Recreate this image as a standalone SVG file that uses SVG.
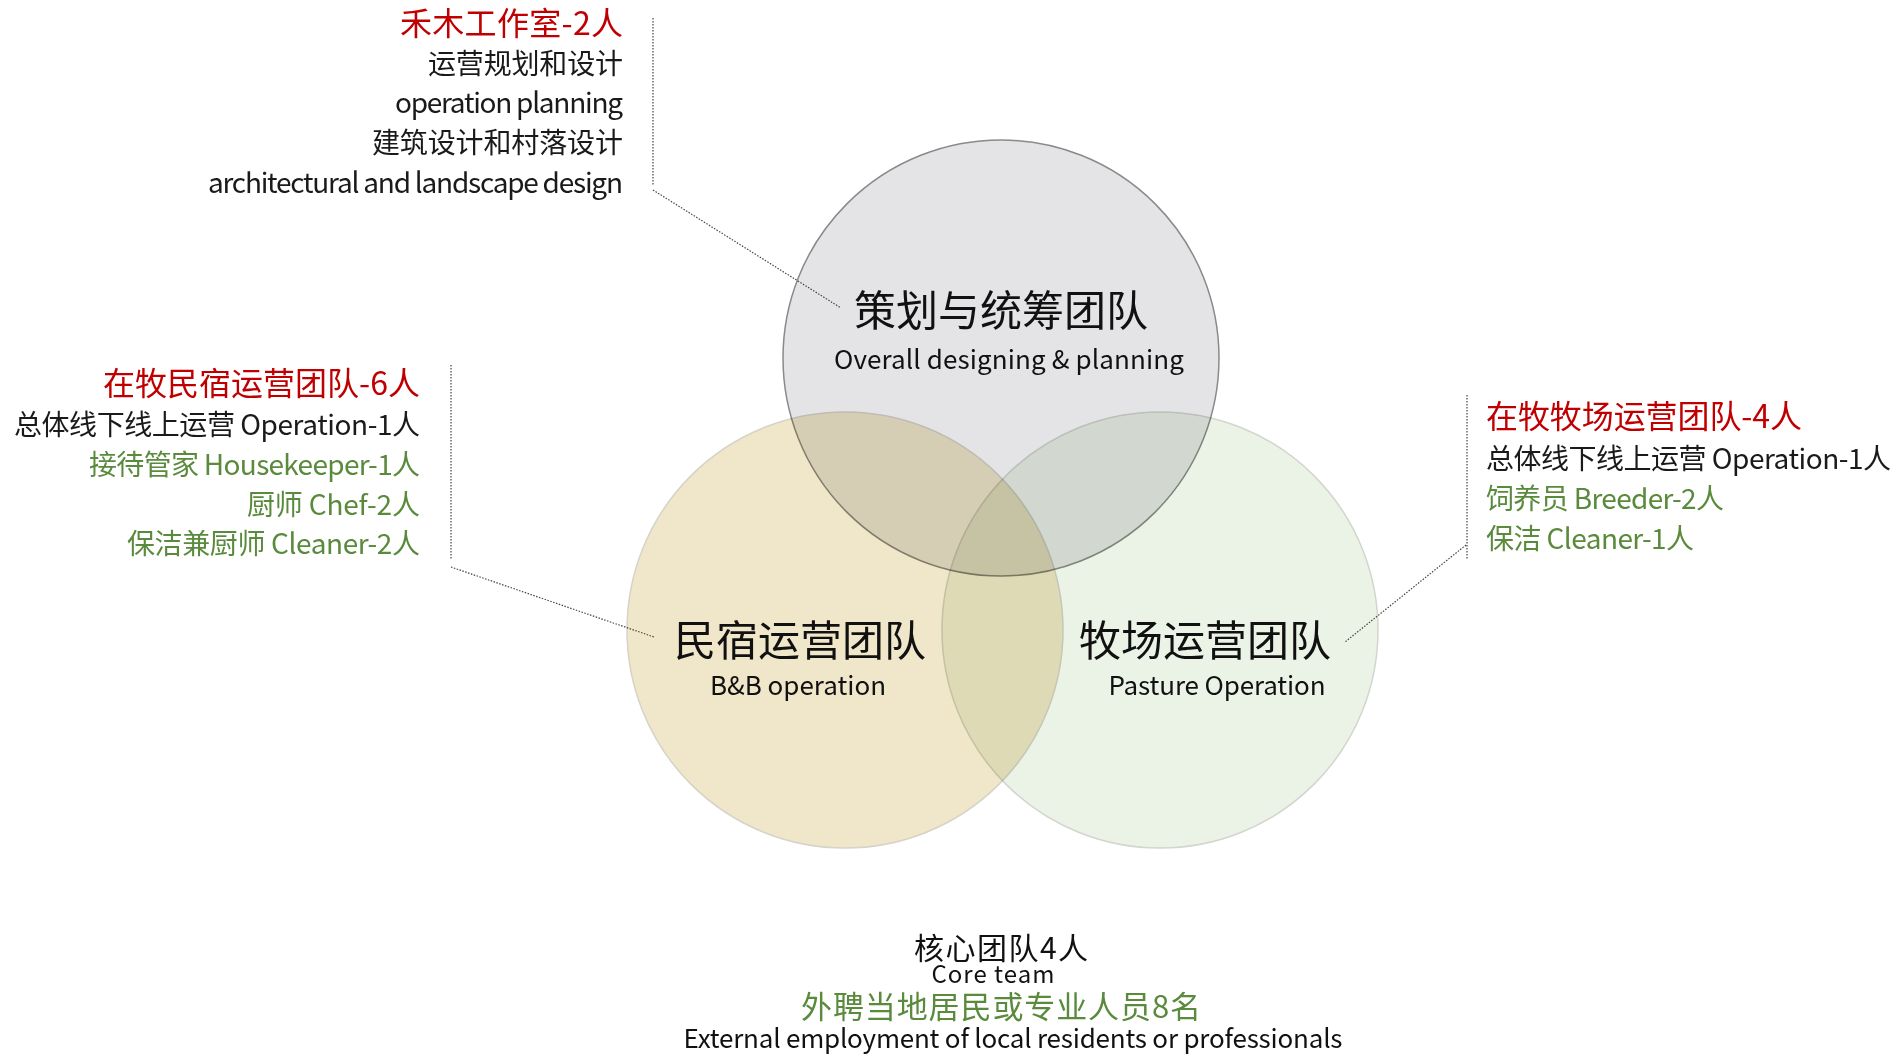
<svg xmlns="http://www.w3.org/2000/svg" width="1900" height="1054" viewBox="0 0 1900 1054">
<style>
text{font-family:"Noto Sans CJK SC","Noto Sans",sans-serif;}
.h{font-size:32px;fill:#c00000;}
.b{font-size:28px;fill:#1a1a1a;}
.g{font-size:28px;fill:#5a8a3c;}
.lbl{font-size:42px;fill:#111;}
.sub{font-size:26px;fill:#111;}
.conn{fill:none;stroke:#444;stroke-width:1.2;stroke-dasharray:1.5 1.5;}
.circ{mix-blend-mode:multiply;}
</style>
<rect width="1900" height="1054" fill="#ffffff"/>
<g id="circle-bb">
<circle class="circ" cx="845" cy="630" r="218" fill="#f0e6c9" stroke="#d6d3c8" stroke-width="1.5"/>
</g>
<g id="circle-pasture">
<circle class="circ" cx="1160" cy="630" r="218" fill="#ebf2e6" stroke="#d2d6cf" stroke-width="1.5"/>
</g>
<g id="circle-planning">
<circle class="circ" cx="1001" cy="358" r="218" fill="#e4e4e6" stroke="#8a8a8a" stroke-width="1.5"/>
</g>
<g id="labels">
<text class="lbl" x="1001" y="326" text-anchor="middle" textLength="294">策划与统筹团队</text>
<text class="sub" x="1009" y="369" text-anchor="middle" textLength="350">Overall designing &amp; planning</text>
<text class="lbl" x="800" y="656" text-anchor="middle" textLength="252">民宿运营团队</text>
<text class="sub" x="798" y="695" text-anchor="middle" textLength="176">B&amp;B operation</text>
<text class="lbl" x="1205" y="656" text-anchor="middle" textLength="252">牧场运营团队</text>
<text class="sub" x="1217" y="695" text-anchor="middle" textLength="217">Pasture Operation</text>
</g>
<g id="connectors">
<polyline class="conn" points="653,18 653,186"/>
<polyline class="conn" points="653,190 841,308"/>
<polyline class="conn" points="451,365 451,560"/>
<polyline class="conn" points="451,567 654,637"/>
<polyline class="conn" points="1467,395 1467,560"/>
<polyline class="conn" points="1466,545 1345,642"/>
</g>
<g id="note-hemu">
<text class="h" x="623" y="35" text-anchor="end" textLength="223">禾木工作室-2人</text>
<text class="b" x="623" y="74" text-anchor="end" textLength="195">运营规划和设计</text>
<text class="b" x="623" y="113" text-anchor="end" textLength="228">operation planning</text>
<text class="b" x="623" y="153" text-anchor="end" textLength="251">建筑设计和村落设计</text>
<text class="b" x="623" y="193" text-anchor="end" textLength="415">architectural and landscape design</text>
</g>
<g id="note-bb">
<text class="h" x="420" y="395" text-anchor="end" textLength="317">在牧民宿运营团队-6人</text>
<text class="b" x="420" y="435" text-anchor="end" textLength="406">总体线下线上运营 Operation-1人</text>
<text class="g" x="420" y="475" text-anchor="end" textLength="331">接待管家 Housekeeper-1人</text>
<text class="g" x="420" y="515" text-anchor="end" textLength="173">厨师 Chef-2人</text>
<text class="g" x="420" y="554" text-anchor="end" textLength="293">保洁兼厨师 Cleaner-2人</text>
</g>
<g id="note-pasture">
<text class="h" x="1486" y="428" textLength="316">在牧牧场运营团队-4人</text>
<text class="b" x="1486" y="469" textLength="405">总体线下线上运营 Operation-1人</text>
<text class="g" x="1486" y="509" textLength="238">饲养员 Breeder-2人</text>
<text class="g" x="1486" y="549" textLength="208">保洁 Cleaner-1人</text>
</g>
<g id="summary">
<text x="1001" y="959" text-anchor="middle" font-size="30" fill="#111" textLength="174">核心团队4人</text>
<text x="993" y="983" text-anchor="middle" font-size="24" fill="#111" textLength="123">Core team</text>
<text x="1001" y="1018" text-anchor="middle" font-size="31" fill="#5a8a3c" textLength="400">外聘当地居民或专业人员8名</text>
<text x="1013" y="1048" text-anchor="middle" font-size="26" fill="#111" textLength="659">External employment of local residents or professionals</text>
</g>
</svg>
